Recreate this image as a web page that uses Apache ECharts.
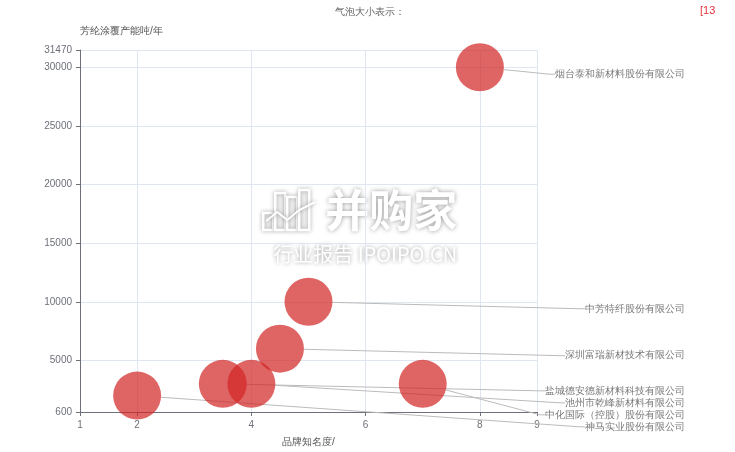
<!DOCTYPE html>
<html>
<head>
<meta charset="utf-8">
<script src="https://cdn.jsdelivr.net/npm/echarts@6/dist/echarts.min.js"></script>
<style>html,body{margin:0;padding:0;background:#fff}#c{width:735px;height:452px}</style>
</head>
<body>
<div id="c"></div>
<script>
const companies = ['烟台泰和新材料股份有限公司','中芳特纤股份有限公司','深圳富瑞新材技术有限公司','盐城德安德新材料科技有限公司','池州市乾峰新材料有限公司','中化国际（控股）股份有限公司','神马实业股份有限公司'];
const brandScore = [8, 5, 4.5, 3.5, 4, 7, 2];
const capacity = [30000, 10000, 6000, 3000, 3000, 3000, 2000];
const xAxisName = '品牌知名度/';
const yAxisName = '芳纶涂覆产能吨/年';
const topNote = '气泡大小表示：';
const cornerNote = '[13';

const chart = echarts.init(document.getElementById('c'), null, {renderer:'canvas'});
const font = 'sans-serif';
const data = companies.map((n,i)=>({name:n, value:[brandScore[i], capacity[i]]}));

const wmShadow = {shadowBlur:4, shadowColor:'rgba(0,0,0,0.35)'};
chart.setOption({
  animation:false,
  textStyle:{fontFamily:font},
  title:[
    {text:topNote, left:330, top:2, textStyle:{fontSize:10, fontWeight:'normal', color:'#666'}},
    {text:cornerNote, left:695, top:0, textStyle:{fontSize:11, fontWeight:'normal', color:'#e8303a'}}
  ],
  grid:{left:80, right:198, top:50, bottom:36, containLabel:false},
  xAxis:{
    type:'value', min:1, max:9,
    name:xAxisName, nameLocation:'middle', nameGap:25,
    nameTextStyle:{fontSize:10, color:'#555'},
    axisLine:{show:true, lineStyle:{color:'#6e7079'}},
    axisTick:{show:true, length:4},
    axisLabel:{fontSize:10, color:'#6e7079', formatter:v=>String(v)},
    splitLine:{show:true, lineStyle:{color:'#e0e6f1'}}
  },
  yAxis:{
    type:'value', min:600, max:31470,
    name:yAxisName, nameGap:14,
    nameTextStyle:{fontSize:10, color:'#555', align:'left'},
    axisLine:{show:true, lineStyle:{color:'#6e7079'}},
    axisTick:{show:true, length:4},
    axisLabel:{fontSize:10, color:'#6e7079', formatter:v=>String(v)},
    splitLine:{show:true, lineStyle:{color:'#e0e6f1'}}
  },
  series:[{
    type:'scatter',
    data:data,
    symbolSize:48,
    itemStyle:{color:'rgba(210,35,35,0.88)'},
    label:{show:true, position:'right', formatter:'{b}', fontSize:10, color:'#555', minMargin:2},
    labelLine:{show:true, length2:5, lineStyle:{color:'#bbb', width:1}},
    labelLayout:function(){ return {x: chart.getWidth()-50, align:'right', dy:2, moveOverlap:'shiftY'}; }
  }],
  graphic:[{
    type:'group', left:262, top:188, silent:true, z:100,
    children:[
      {type:'rect', shape:{x:0,y:25,width:10,height:17}, style:Object.assign({fill:'rgba(255,255,255,0.25)', stroke:'#fff', lineWidth:2.5}, wmShadow)},
      {type:'rect', shape:{x:12,y:5,width:10,height:37}, style:Object.assign({fill:'rgba(255,255,255,0.25)', stroke:'#fff', lineWidth:2.5}, wmShadow)},
      {type:'rect', shape:{x:24,y:9,width:10,height:33}, style:Object.assign({fill:'rgba(255,255,255,0.25)', stroke:'#fff', lineWidth:2.5}, wmShadow)},
      {type:'rect', shape:{x:36,y:2,width:10,height:40}, style:Object.assign({fill:'rgba(255,255,255,0.25)', stroke:'#fff', lineWidth:2.5}, wmShadow)},
      {type:'polyline', shape:{points:[[3,33],[14,24],[24,32],[36,22],[52,14]]}, style:Object.assign({fill:null, stroke:'#fff', lineWidth:2}, wmShadow)},
      {type:'text', x:62, y:0, style:{text:'并购家', fontSize:44, fontWeight:'bold', fill:'#fff', fontFamily:'Noto Sans CJK SC', textShadowBlur:5, textShadowColor:'rgba(0,0,0,0.4)'}},
      {type:'text', x:10, y:56, style:{text:'行业报告 IPOIPO.CN', fontSize:20, fill:'#fff', fontFamily:'Noto Sans CJK SC', textShadowBlur:4, textShadowColor:'rgba(0,0,0,0.4)'}}
    ]
  }]
});
</script>
</body>
</html>
